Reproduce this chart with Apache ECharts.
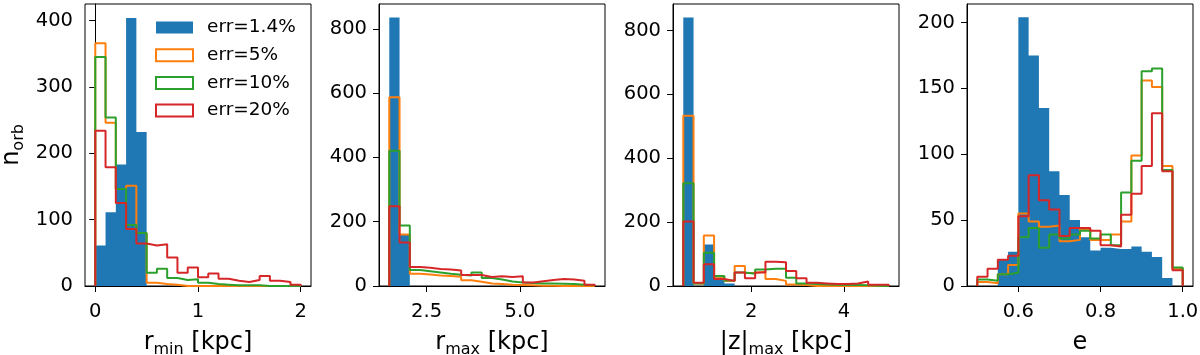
<!DOCTYPE html>
<html>
<head>
<meta charset="utf-8">
<script src="https://cdn.jsdelivr.net/npm/echarts@6/dist/echarts.min.js"></script>
<style>
  html, body { margin: 0; padding: 0; background: #fff; }
  #chart { width: 1200px; height: 355px; }
</style>
</head>
<body>
<div id="chart"></div>
<script>
// series names (legend)
const names = ['err=1.4%', 'err=5%', 'err=10%', 'err=20%'];

// panel 1: r_min, 20 bins from 0 to 2
const rminBins = { start: 0, width: 0.1 };
const rminErr1 = [61, 111, 183, 404, 232, 0, 0, 0, 0, 0, 0, 0, 0, 0, 0, 0, 0, 0, 0, 0];
const rminErr5 = [366, 246, 146, 151, 80, 5, 3, 2, 0, 0, 0, 0, 0, 0, 0, 0, 0, 0, 0, 0];
const rminErr10 = [345, 254, 146, 92, 80, 20, 26, 12, 9, 10, 5, 3, 2, 1, 1, 1, 0, 0, 0, 0];
const rminErr20 = [234, 179, 125, 86, 64, 61, 63, 43, 20, 28, 13, 19, 11, 8, 6, 9, 15, 8, 6, 2];

// panel 2: r_max, 20 bins from 1.5 to 7.0
const rmaxBins = { start: 1.5, width: 0.275 };
const rmaxErr1 = [835, 159, 0, 0, 0, 0, 0, 0, 0, 0, 0, 0, 0, 0, 0, 0, 0, 0, 0, 0];
const rmaxErr5 = [587, 160, 38, 36, 33, 31, 29, 18, 13, 8, 6, 4, 3, 2, 1, 1, 0, 0, 0, 0];
const rmaxErr10 = [421, 188, 50, 46, 42, 38, 35, 33, 42, 25, 20, 14, 11, 9, 8, 8, 7, 6, 4, 2];
const rmaxErr20 = [248, 135, 59, 57, 53, 51, 48, 34, 34, 28, 30, 28, 30, 11, 15, 19, 22, 20, 16, 4];

// panel 3: |z|_max, 20 bins from 0.53 to 4.97
const zmaxBins = { start: 0.53, width: 0.222 };
const zmaxErr1 = [841, 0, 130, 27, 8, 0, 0, 0, 0, 0, 0, 0, 0, 0, 0, 0, 0, 0, 0, 0];
const zmaxErr5 = [533, 8, 158, 29, 16, 63, 41, 45, 22, 16, 5, 3, 0, 0, 0, 0, 0, 0, 0, 0];
const zmaxErr10 = [322, 8, 104, 31, 17, 42, 38, 52, 54, 54, 26, 8, 6, 5, 4, 3, 3, 2, 1, 0];
const zmaxErr20 = [202, 10, 68, 22, 16, 42, 24, 42, 76, 74, 47, 24, 10, 8, 6, 6, 8, 14, 4, 4];

// panel 4: e, 20 bins from 0.5 to 1.0
const eBins = { start: 0.5, width: 0.025 };
const eErr1 = [0, 0, 20, 26, 204, 175, 135, 87, 69, 50, 37, 27, 29, 28, 28, 30, 26, 22, 6, 0];
const eErr5 = [3, 2, 9, 16, 55, 49, 45, 46, 34, 35, 43, 35, 35, 39, 49, 99, 156, 151, 91, 13];
const eErr10 = [5, 4, 9, 10, 37, 44, 29, 39, 36, 39, 42, 36, 39, 31, 71, 95, 163, 165, 88, 14];
const eErr20 = [7, 13, 20, 23, 53, 84, 65, 58, 38, 44, 44, 42, 31, 30, 54, 70, 91, 131, 87, 12];

// tick values
const rminXTicks = [0, 1, 2];
const rmaxXTicks = [2.5, 5.0];
const zmaxXTicks = [2, 4];
const eXTicks = [0.6, 0.8, 1.0];
const rminYTicks = [0, 100, 200, 300, 400];
const rmaxYTicks = [0, 200, 400, 600, 800];
const zmaxYTicks = [0, 200, 400, 600, 800];
const eYTicks = [0, 50, 100, 150, 200];

const colors = ['#1f77b4', '#ff7f0e', '#2ca02c', '#d62728'];
const font = 'DejaVu Sans';

// histogram outline points (edge, count), used with step: 'start'
function stepPoints(bins, counts) {
  const pts = [[bins.start, 0]];
  counts.forEach((c, i) => pts.push([bins.start + (i + 1) * bins.width, c]));
  pts.push([bins.start + counts.length * bins.width, 0]);
  return pts;
}

const panels = [
  { bins: rminBins, data: [rminErr1, rminErr5, rminErr10, rminErr20], xMin: -0.1, xMax: 2.1, yMax: 425,
    xTicks: rminXTicks, yTicks: rminYTicks, fmt: v => String(v), xName: '{r|r}{s|min}{r| [kpc]}' },
  { bins: rmaxBins, data: [rmaxErr1, rmaxErr5, rmaxErr10, rmaxErr20], xMin: 1.225, xMax: 7.275, yMax: 877,
    xTicks: rmaxXTicks, yTicks: rmaxYTicks, fmt: v => v.toFixed(1), xName: '{r|r}{s|max}{r| [kpc]}' },
  { bins: zmaxBins, data: [zmaxErr1, zmaxErr5, zmaxErr10, zmaxErr20], xMin: 0.308, xMax: 5.192, yMax: 883,
    xTicks: zmaxXTicks, yTicks: zmaxYTicks, fmt: v => String(v), xName: '{r||z|}{s|max}{r| [kpc]}' },
  { bins: eBins, data: [eErr1, eErr5, eErr10, eErr20], xMin: 0.475, xMax: 1.025, yMax: 214,
    xTicks: eXTicks, yTicks: eYTicks, fmt: v => v.toFixed(1), xName: '{r|e}' }
];

const nameRich = {
  r: { fontFamily: font, fontSize: 24, lineHeight: 30, color: '#000' },
  s: { fontFamily: font, fontSize: 16, lineHeight: 20, verticalAlign: 'bottom', color: '#000' }
};

const grid = [], xAxis = [], yAxis = [], series = [];
panels.forEach((p, k) => {
  grid.push({
    left: 85 + k * 294, top: 4, width: 226, height: 282,
    outerBoundsMode: 'none', containLabel: false,
    show: true, borderColor: '#000', borderWidth: 1, backgroundColor: '#fff'
  });
  xAxis.push({
    type: 'value', gridIndex: k, min: p.xMin, max: p.xMax,
    name: p.xName, nameLocation: 'middle', nameGap: 42,
    nameTextStyle: { rich: nameRich },
    axisLine: { show: true, onZero: false, lineStyle: { color: '#000', width: 1 } },
    axisTick: { show: true, length: 6, customValues: p.xTicks, lineStyle: { color: '#000' } },
    axisLabel: { customValues: p.xTicks, formatter: p.fmt, fontSize: 19.5, fontFamily: font, color: '#000', margin: 16 },
    splitLine: { show: false }
  });
  yAxis.push({
    type: 'value', gridIndex: k, min: 0, max: p.yMax,
    name: k === 0 ? '{n|n}{s|orb}' : '', nameLocation: 'middle', nameGap: 58,
    nameTextStyle: { rich: { n: nameRich.r, s: nameRich.s } },
    axisLine: { show: true, lineStyle: { color: '#000', width: 1 } },
    axisTick: { show: true, length: 6, customValues: p.yTicks, lineStyle: { color: '#000' } },
    axisLabel: { customValues: p.yTicks, fontSize: 19.5, fontFamily: font, color: '#000', margin: 12 },
    splitLine: { show: false }
  });
  p.data.forEach((counts, j) => {
    const s = {
      name: names[j], type: 'line', step: 'start',
      xAxisIndex: k, yAxisIndex: k,
      data: stepPoints(p.bins, counts),
      symbol: 'none', silent: true, clip: true,
      color: colors[j],
      lineStyle: { color: colors[j], width: 2 }
    };
    if (j === 0) {
      s.lineStyle = { width: 0 };
      s.areaStyle = { color: colors[0], opacity: 1 };
    }
    series.push(s);
  });
});

const chart = echarts.init(document.getElementById('chart'));
chart.setOption({
  animation: false,
  textStyle: { fontFamily: font },
  grid, xAxis, yAxis, series,
  legend: {
    orient: 'vertical', left: 155, top: 18, padding: 0,
    itemWidth: 37, itemHeight: 12, itemGap: 8.7,
    selectedMode: false,
    textStyle: { fontSize: 18.5, lineHeight: 18, fontFamily: font, color: '#000', padding: [0, 0, 0, 9] },
    data: names.map((n, j) => ({
      name: n, icon: 'rect',
      itemStyle: j === 0
        ? { color: colors[0], borderWidth: 0 }
        : { color: '#fff', borderColor: colors[j], borderWidth: 2 }
    }))
  }
});
</script>
</body>
</html>
